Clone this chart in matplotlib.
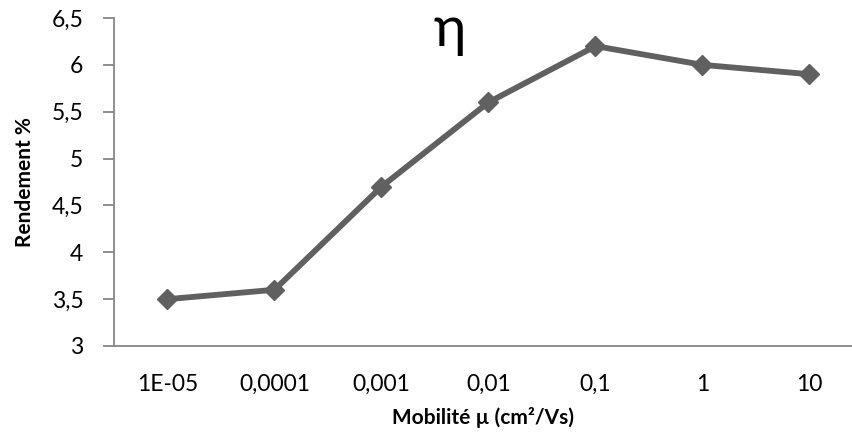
import matplotlib
matplotlib.use("Agg")
import matplotlib.pyplot as plt
from matplotlib.ticker import FuncFormatter

categories = ["1E-05", "0,0001", "0,001", "0,01", "0,1", "1", "10"]
rendement = [3.5, 3.6, 4.7, 5.6, 6.2, 6.0, 5.9]
y_ticks = [3, 3.5, 4, 4.5, 5, 5.5, 6, 6.5]

plt.rcParams["font.family"] = ["Lato", "DejaVu Sans"]

fig = plt.figure(figsize=(8.53, 4.41), dpi=100)
ax = fig.add_axes([114 / 853, 1 - 346 / 441, (853 - 114) / 853, (346 - 18) / 441])

x = list(range(len(categories)))
ax.plot(x, rendement, color="#606060", lw=4.2, marker="D", markersize=10,
        markerfacecolor="#606060", markeredgecolor="#606060", solid_joinstyle="miter")

ax.set_xlim(-0.5, (853 - 114) / 107 - 0.5)
ax.set_ylim(3, 6.5)
ax.set_xticks(x)
ax.set_xticklabels(categories)
ax.set_yticks(y_ticks)
ax.yaxis.set_major_formatter(FuncFormatter(lambda v, p: f"{v:g}".replace(".", ",")))

for side in ("top", "right"):
    ax.spines[side].set_visible(False)
for side in ("left", "bottom"):
    ax.spines[side].set_color("#868686")
    ax.spines[side].set_linewidth(1.3)

ax.tick_params(axis="y", length=8, width=1.3, color="#868686", labelsize=16.5, pad=14, labelcolor="black")
ax.tick_params(axis="x", length=0, labelsize=16.5, pad=20, labelcolor="black")

ax.set_ylabel("Rendement %", fontsize=15, fontweight="bold", labelpad=12)
ax.set_xlabel("Mobilité µ (cm²/Vs)", fontsize=15, fontweight="bold", labelpad=9)
fig.text(450 / 853, 1 - 30 / 441, "η", fontsize=40, ha="center", va="center")

fig.savefig("out.png", dpi=100)
